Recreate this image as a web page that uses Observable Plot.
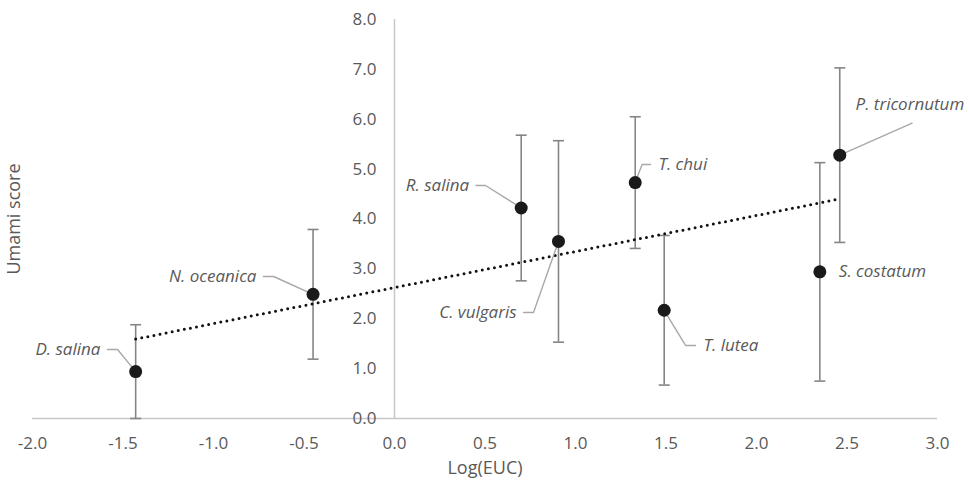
<!DOCTYPE html>
<html><head><meta charset="utf-8">
<script src="https://cdn.jsdelivr.net/npm/d3@7"></script>
<script src="https://cdn.jsdelivr.net/npm/@observablehq/plot@0.6"></script>
<style>body{margin:0;background:#fff}</style>
</head><body><div id="chart"></div>
<script>
// ---- data ----
const species = ["D. salina","N. oceanica","R. salina","C. vulgaris","T. chui","T. lutea","S. costatum","P. tricornutum"];
const logEUC  = [-1.43, -0.45, 0.70, 0.906, 1.33, 1.49, 2.35, 2.46];
const umami   = [0.94, 2.49, 4.22, 3.55, 4.73, 2.17, 2.94, 5.28];
const sdev    = [0.94, 1.30, 1.46, 2.02, 1.32, 1.50, 2.19, 1.75];
const xTicks  = [-2.0,-1.5,-1.0,-0.5,0.0,0.5,1.0,1.5,2.0,2.5,3.0];
const yTicks  = [0,1,2,3,4,5,6,7,8];
const xTitle = "Log(EUC)";
const yTitle = "Umami score";

// ---- label placement (annotation layout, in data units) ----
const labelLayout = [
  {elbow:[-1.530,1.383], end:[-1.586,1.383], side:"left"},
  {elbow:[-0.668,2.847], end:[-0.724,2.847], side:"left"},
  {elbow:[0.503,4.672],  end:[0.451,4.672],  side:"left"},
  {elbow:[0.768,2.125],  end:[0.713,2.125],  side:"left"},
  {elbow:[1.368,5.093],  end:[1.414,5.093],  side:"right"},
  {elbow:[1.608,1.464],  end:[1.663,1.464],  side:"right"},
  {elbow:null, end:null, side:"point"},
  {elbow:null, end:[2.860,5.921], side:"above", text:[2.547,6.296]}
];

const data = species.map((s,i)=>({species:s, x:logEUC[i], y:umami[i], lo:umami[i]-sdev[i], hi:umami[i]+sdev[i]}));

const leaderPts = [];
const labels = [];
data.forEach((d,i)=>{
  const L = labelLayout[i];
  if (L.side === "point") {
    labels.push({species:d.species, x:d.x, y:d.y, side:"point"});
    return;
  }
  leaderPts.push({k:i, x:d.x, y:d.y});
  if (L.elbow) leaderPts.push({k:i, x:L.elbow[0], y:L.elbow[1]});
  leaderPts.push({k:i, x:L.end[0], y:L.end[1]});
  if (L.side === "above") labels.push({species:d.species, x:L.text[0], y:L.text[1], side:"above"});
  else labels.push({species:d.species, x:L.end[0], y:L.end[1], side:L.side});
});

const capSym = {draw(ctx){ ctx.moveTo(-5.5,0); ctx.lineTo(5.5,0); }};
const gray = "#595959";
const lbl = {x:"x", y:"y", text:"species", fill:gray, fontStyle:"italic", fontSize:17};

const chart = Plot.plot({
  width: 969, height: 489,
  marginLeft: 32, marginRight: 32, marginTop: 19, marginBottom: 71,
  x: {domain:[-2,3], axis:null},
  y: {domain:[0,8], axis:null},
  style: {fontFamily:"'Open Sans', sans-serif", fontSize:"17px", background:"#fff", color:gray},
  marks: [
    Plot.ruleY([0], {x1:-2, x2:3, stroke:"#c8c8c8", strokeWidth:1.5}),
    Plot.ruleX([0], {y1:0, y2:8, stroke:"#c8c8c8", strokeWidth:1.5}),
    Plot.text(yTicks, {x:0, y:d=>d, text:d=>d.toFixed(1), dx:-18, textAnchor:"end", fill:gray}),
    Plot.text(xTicks, {x:d=>d, y:0, text:d=>d.toFixed(1), dy:25, fill:gray}),
    Plot.text([xTitle], {frameAnchor:"bottom", lineAnchor:"middle", dy:50, fill:gray, fontSize:18}),
    Plot.text([yTitle], {frameAnchor:"left", textAnchor:"middle", lineAnchor:"middle", rotate:-90, dx:-18, fill:gray, fontSize:18}),
    Plot.ruleX(data, {x:"x", y1:"lo", y2:"hi", stroke:"#858585", strokeWidth:1.6}),
    Plot.dot(data, {x:"x", y:"lo", symbol:capSym, stroke:"#858585", strokeWidth:1.6, r:5}),
    Plot.dot(data, {x:"x", y:"hi", symbol:capSym, stroke:"#858585", strokeWidth:1.6, r:5}),
    Plot.linearRegressionY(data, {x:"x", y:"y", ci:0, stroke:"#111", strokeWidth:3, strokeDasharray:"0,6.2", strokeLinecap:"round"}),
    Plot.line(leaderPts, {x:"x", y:"y", z:"k", stroke:"#a8a8a8", strokeWidth:1.4}),
    Plot.dot(data, {x:"x", y:"y", r:6.5, fill:"#1a1a1a", stroke:"none"}),
    Plot.text(labels.filter(d=>d.side==="left"), {...lbl, textAnchor:"end", dx:-7}),
    Plot.text(labels.filter(d=>d.side==="right"), {...lbl, textAnchor:"start", dx:8}),
    Plot.text(labels.filter(d=>d.side==="point"), {...lbl, textAnchor:"start", dx:19}),
    Plot.text(labels.filter(d=>d.side==="above"), {...lbl, textAnchor:"start"})
  ]
});
document.getElementById("chart").appendChild(chart);
</script>
</body></html>
